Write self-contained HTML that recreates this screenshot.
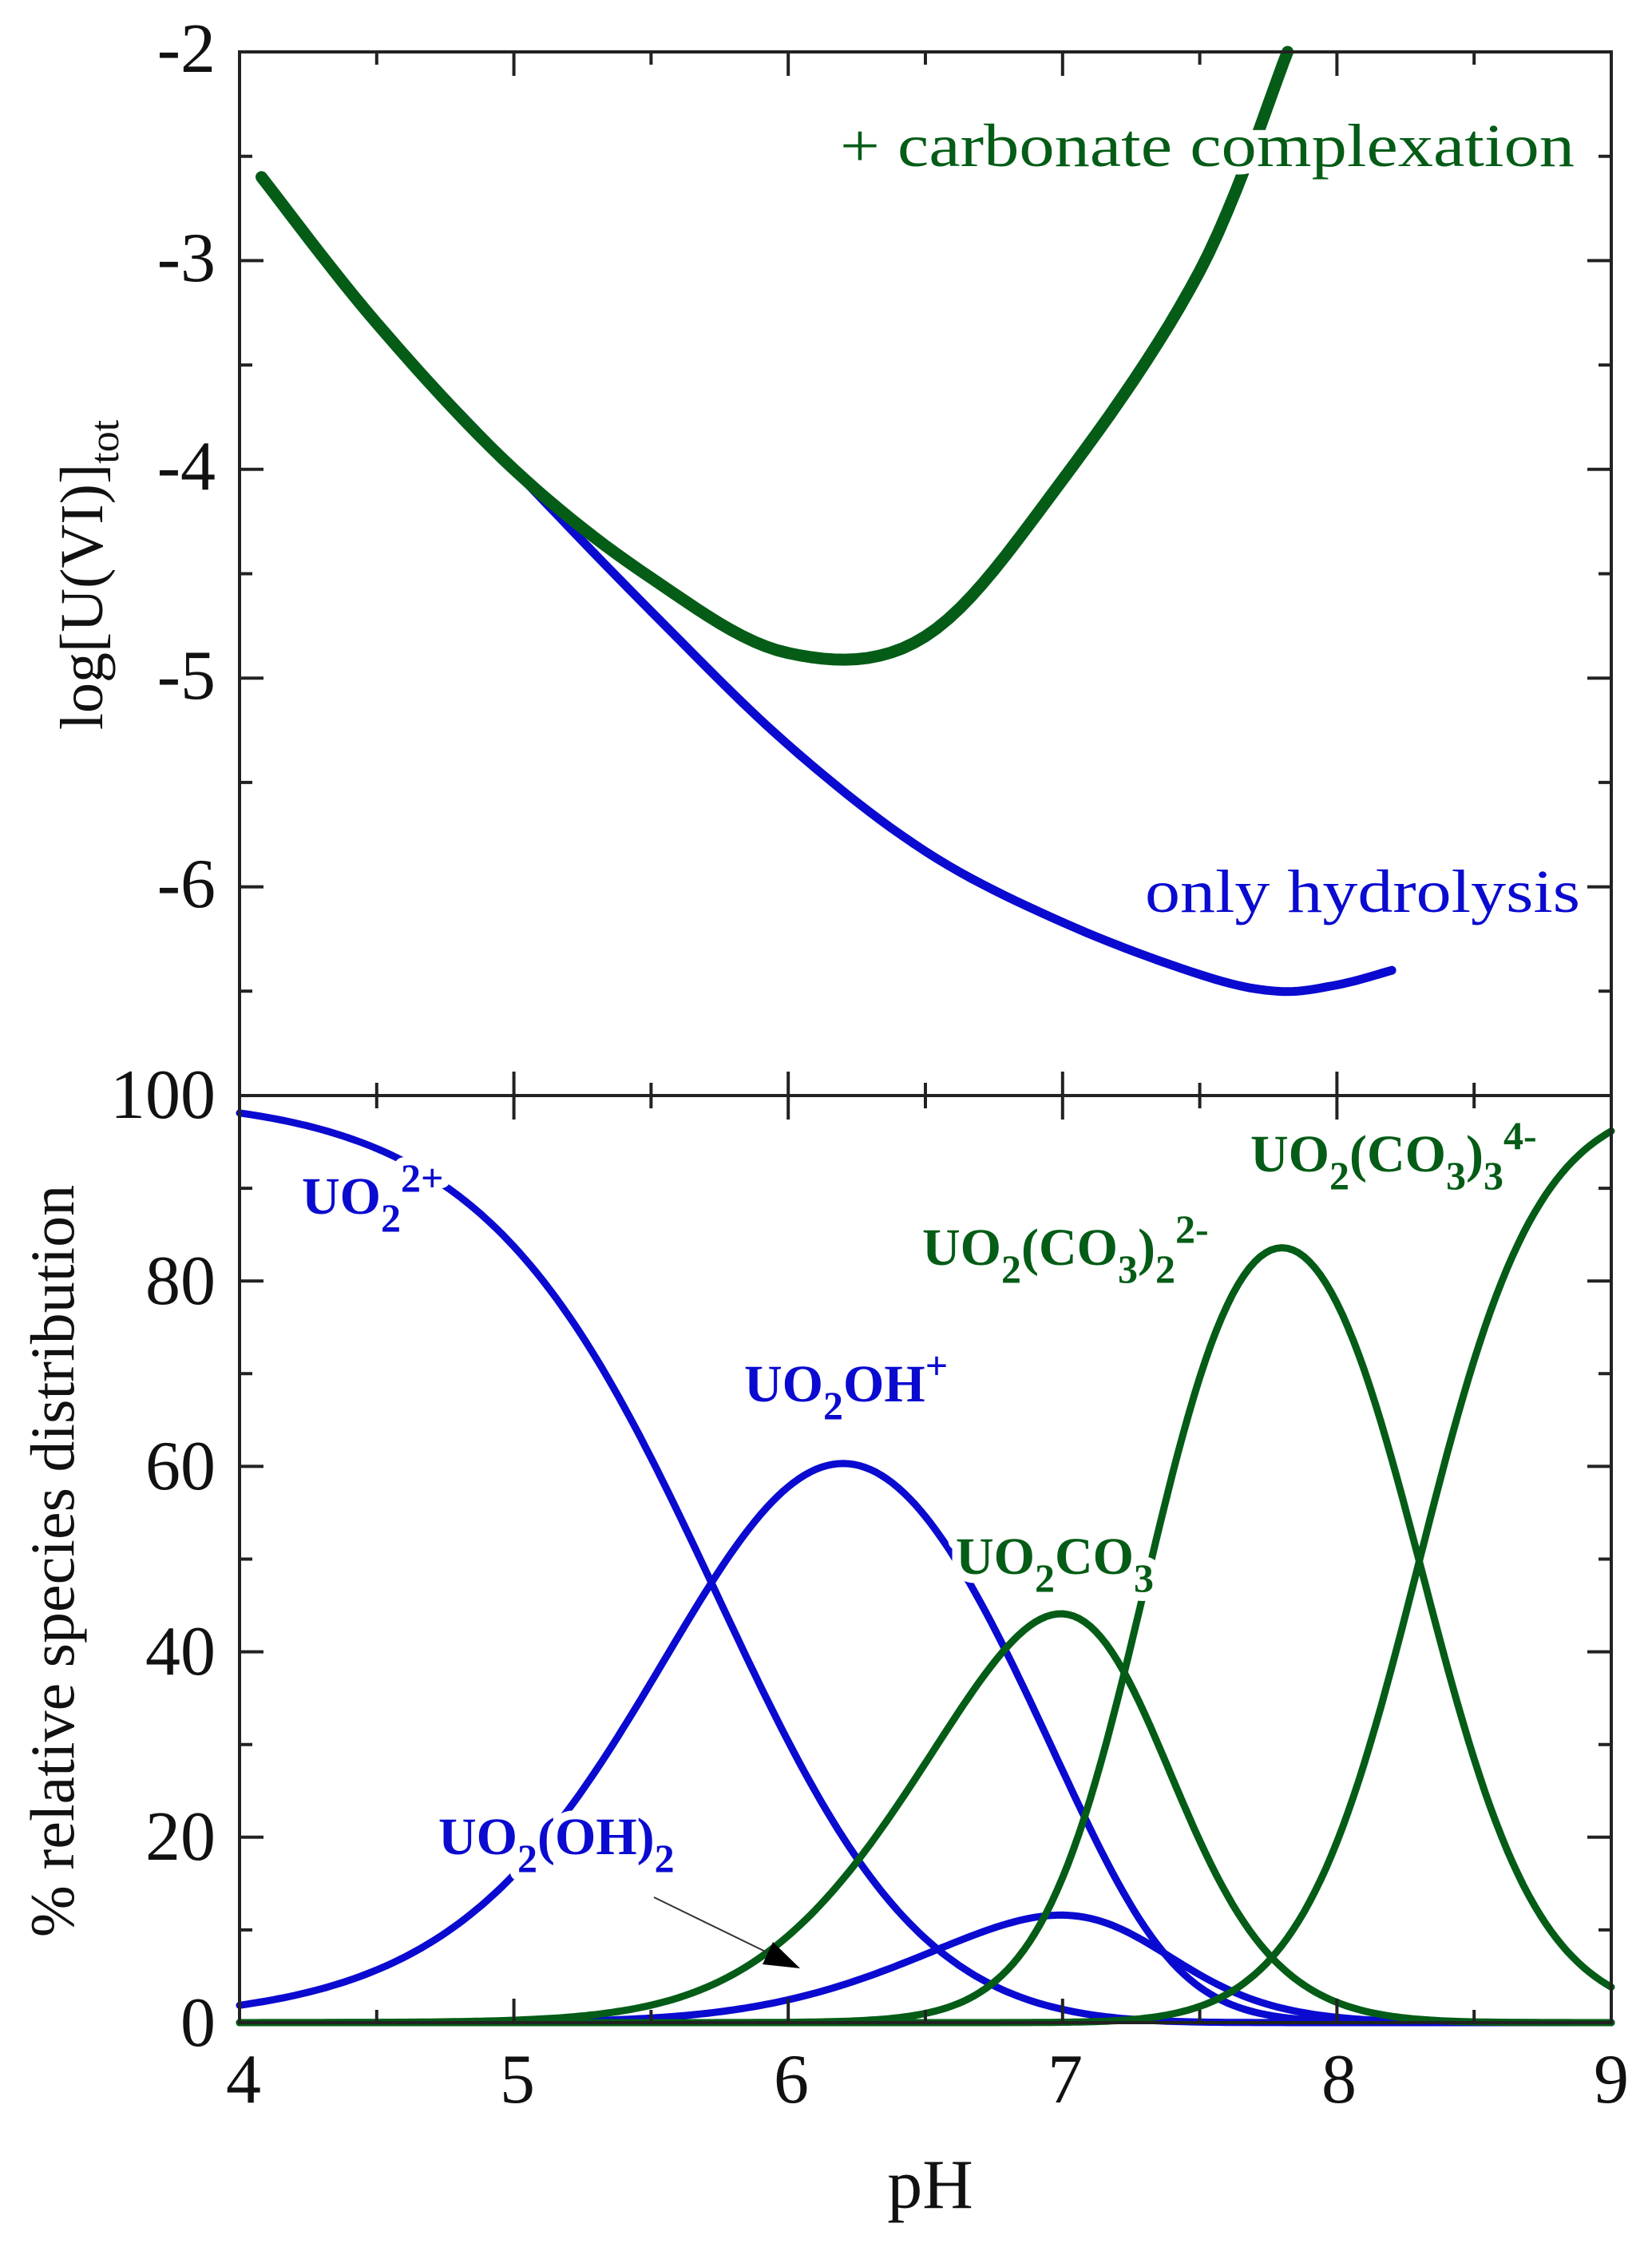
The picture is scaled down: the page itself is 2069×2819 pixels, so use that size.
<!DOCTYPE html>
<html><head><meta charset="utf-8">
<style>
html,body{margin:0;padding:0;background:#fff;}
svg{display:block;}
</style></head>
<body>
<svg id="s" width="2069" height="2819" viewBox="0 0 2069 2819" xmlns="http://www.w3.org/2000/svg" font-family="'Liberation Serif', 'Times New Roman', serif">
<g id="curves"></g>
<g id="axes" stroke="#222" stroke-width="4" fill="none"></g>
<g font-size="88" fill="#111" text-anchor="end">
<text x="270" y="90">-2</text>
<text x="270" y="352">-3</text>
<text x="270" y="613">-4</text>
<text x="270" y="875">-5</text>
<text x="270" y="1136">-6</text>
<text x="270" y="1400">100</text>
<text x="270" y="1633">80</text>
<text x="270" y="1865">60</text>
<text x="270" y="2097">40</text>
<text x="270" y="2329">20</text>
<text x="270" y="2562">0</text>
</g>
<g font-size="88" fill="#111" text-anchor="middle">
<text x="305" y="2633">4</text>
<text x="648" y="2633">5</text>
<text x="991" y="2633">6</text>
<text x="1334" y="2633">7</text>
<text x="1677" y="2633">8</text>
<text x="2018" y="2633">9</text>
<text x="1165" y="2765">pH</text>
</g>
<text transform="translate(128,720) rotate(-90)" font-size="76" fill="#111" text-anchor="middle">log[U(VI)]<tspan font-size="52" dy="20">tot</tspan></text>
<text transform="translate(92,1955) rotate(-90)" font-size="78" fill="#111" text-anchor="middle">% relative species distribution</text>
<g id="labels"></g>
</svg>
<script>
var NS="http://www.w3.org/2000/svg";
var X0=300,X1=2018;
function X(p){return X0+(p-4)*(X1-X0)/5;}
function YT(v){return 65+(-2-v)*261.4;}
function YB(v){return 2533-v*11.61;}
function el(parent,tag,attrs,txt){var e=document.createElementNS(NS,tag);for(var k in attrs)e.setAttribute(k,attrs[k]);if(txt)e.textContent=txt;document.getElementById(parent).appendChild(e);return e;}
function cr(pts,n){var out=[];for(var i=0;i<pts.length-1;i++){var p0=pts[Math.max(i-1,0)],p1=pts[i],p2=pts[i+1],p3=pts[Math.min(i+2,pts.length-1)];for(var t=0;t<n;t++){var s=t/n,s2=s*s,s3=s2*s;var f=function(a,b,c,d){return 0.5*((2*b)+(-a+c)*s+(2*a-5*b+4*c-d)*s2+(-a+3*b-3*c+d)*s3);};out.push([f(p0[0],p1[0],p2[0],p3[0]),f(p0[1],p1[1],p2[1],p3[1])]);}}out.push(pts[pts.length-1]);return out;}
function path(parent,pts,col,w){var d="M"+pts.map(function(p){return p[0].toFixed(1)+","+p[1].toFixed(1);}).join("L");el(parent,"path",{d:d,stroke:col,"stroke-width":w,fill:"none","stroke-linecap":"round","stroke-linejoin":"round"});}
var BLUE="#0a0ad0",GREEN="#045c16";
var blue=[[4.08,-2.6],[4.5,-3.3],[5,-4.0],[5.5,-4.68],[6,-5.32],[6.5,-5.83],[7,-6.17],[7.5,-6.42],[7.78,-6.5],[8.0,-6.47],[8.2,-6.4]];
var green=[[4.08,-2.6],[4.5,-3.3],[5,-4.0],[5.5,-4.52],[6,-4.88],[6.5,-4.8],[7,-4.05],[7.5,-3.05],[7.82,-2.0]];
path("curves",cr(blue,12).map(function(p){return [X(p[0]),YT(p[1])];}),BLUE,11);
path("curves",cr(green,12).map(function(p){return [X(p[0]),YT(p[1])];}),GREEN,15);
var sp=[[0,0,BLUE],[1,-5.72,BLUE],[2,-13.09,BLUE],[2,-12.51,GREEN],[4,-26.96,GREEN],[6,-43.56,GREEN]];
var series=sp.map(function(){return [];});
for(var p=4;p<=9.0001;p+=0.02){var w=sp.map(function(s){return Math.pow(10,s[0]*p+s[1]);});var sum=w.reduce(function(a,b){return a+b;},0);w.forEach(function(v,i){series[i].push([X(p),YB(100*v/sum)]);});}
series.forEach(function(s,i){path("curves",s,sp[i][2],9);});
var a="axes";
el(a,"rect",{x:X0,y:65,width:X1-X0,height:2533-65});
el(a,"line",{x1:X0,y1:1372,x2:X1,y2:1372});
var t="";
for(var v=-2;v>=-7;v-=0.5){var y=YT(v),L=(Math.abs(v-Math.round(v))<0.01)?30:16;t+="M"+X0+","+y+"h"+L+"M"+X1+","+y+"h"+(-L);}
for(var v=0;v<=100;v+=10){var y=YB(v),L=(v%20==0)?30:16;t+="M"+X0+","+y+"h"+L+"M"+X1+","+y+"h"+(-L);}
for(var p=4;p<=9;p+=0.5){var x=X(p),L=(Math.abs(p-Math.round(p))<0.01)?30:16;t+="M"+x+",2533v"+(-L)+"M"+x+",65v"+L+"M"+x+","+(1372-L)+"v"+(2*L);}
el(a,"path",{d:t});
var lab=
'<text x="378" y="1520" fill="'+BLUE+'">UO<tspan font-size="50" dy="22">2</tspan><tspan font-size="50" dy="-50">2+</tspan></text>'+
'<text x="932" y="1755" fill="'+BLUE+'">UO<tspan font-size="50" dy="22">2</tspan><tspan dy="-22">OH</tspan><tspan font-size="50" dy="-28">+</tspan></text>'+
'<text x="549" y="2322" fill="'+BLUE+'">UO<tspan font-size="50" dy="22">2</tspan><tspan dy="-22">(OH)</tspan><tspan font-size="50" dy="22">2</tspan></text>'+
'<text x="1197" y="1971" fill="'+GREEN+'">UO<tspan font-size="50" dy="22">2</tspan><tspan dy="-22">CO</tspan><tspan font-size="50" dy="22">3</tspan></text>'+
'<text x="1155" y="1584" fill="'+GREEN+'">UO<tspan font-size="50" dy="22">2</tspan><tspan dy="-22">(CO</tspan><tspan font-size="50" dy="22">3</tspan><tspan dy="-22">)</tspan><tspan font-size="50" dy="22">2</tspan><tspan font-size="50" dy="-50">2-</tspan></text>'+
'<text x="1566" y="1467" fill="'+GREEN+'">UO<tspan font-size="50" dy="22">2</tspan><tspan dy="-22">(CO</tspan><tspan font-size="50" dy="22">3</tspan><tspan dy="-22">)</tspan><tspan font-size="50" dy="22">3</tspan><tspan font-size="50" dy="-50">4-</tspan></text>';
var lab2=
'<text x="1052" y="208" fill="'+GREEN+'" textLength="920" lengthAdjust="spacingAndGlyphs">+ carbonate complexation</text>'+
'<text x="1434" y="1142" fill="'+BLUE+'" textLength="545" lengthAdjust="spacingAndGlyphs">only hydrolysis</text>';
document.getElementById("labels").innerHTML=
'<g font-weight="bold" font-size="66" stroke="#fff" stroke-width="22" stroke-linejoin="round">'+lab+'</g>'+
'<g font-weight="bold" font-size="66">'+lab+'</g>'+
'<g font-size="76" stroke="#fff" stroke-width="20">'+lab2+'</g>'+
'<g font-size="76">'+lab2+'</g>'+
'<line x1="819" y1="2376" x2="975" y2="2452" stroke="#333" stroke-width="2"/>'+
'<polygon points="1002,2465 955,2460 968,2432" fill="#000"/>';
</script>
</body></html>
